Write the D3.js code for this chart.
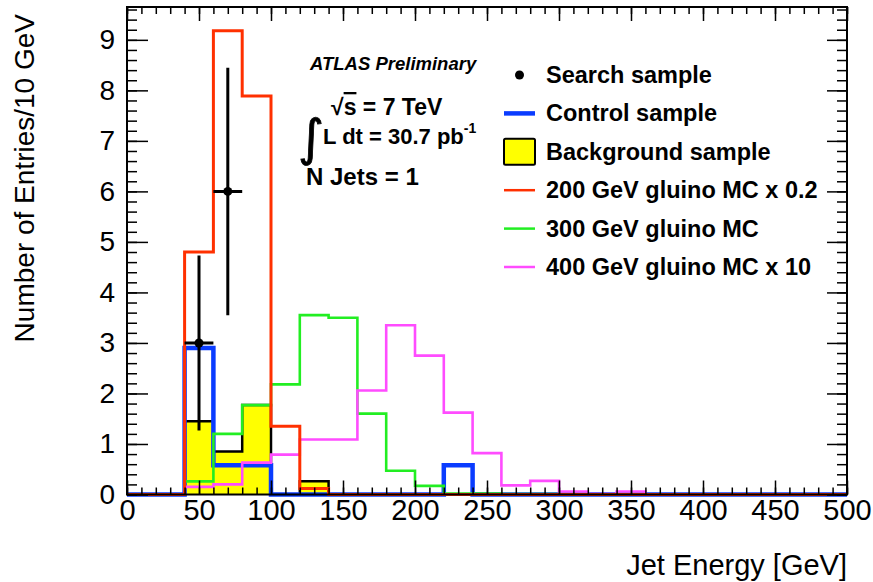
<!DOCTYPE html>
<html>
<head>
<meta charset="utf-8">
<script src="https://cdn.jsdelivr.net/npm/d3@7"></script>
<style>
  html, body { margin: 0; padding: 0; background: #fff; }
  svg { display: block; }
  text { font-family: "Liberation Sans", Arial, Helvetica, sans-serif; fill: #000; }
</style>
</head>
<body>
<svg id="chart" width="873" height="582"></svg>
<script>
// Bin edges of the jet-energy histograms (20 GeV bins, 0–500 GeV)
const binEdges = d3.range(0, 520, 20);

// Control sample (blue)
const controlSample = [0, 0, 2.9, 0.58, 0.58, 0, 0, 0, 0, 0, 0, 0.58, 0, 0, 0, 0, 0, 0, 0, 0, 0, 0, 0, 0, 0];
// Background sample (yellow filled)
const backgroundSample = [0, 0, 1.45, 0.85, 1.77, 0, 0.26, 0, 0, 0, 0, 0, 0, 0, 0, 0, 0, 0, 0, 0, 0, 0, 0, 0, 0];
// 200 GeV gluino MC x 0.2
const gluino200 = [0, 0, 4.8, 9.18, 7.89, 1.35, 0.12, 0, 0, 0, 0, 0, 0, 0, 0, 0, 0, 0, 0, 0, 0, 0, 0, 0, 0];
// 300 GeV gluino MC
const gluino300 = [0, 0, 0.26, 1.2, 1.77, 2.18, 3.55, 3.5, 1.6, 0.47, 0.17, 0.02, 0.02, 0.01, 0.01, 0.01, 0, 0.01, 0, 0, 0, 0, 0, 0, 0];
// 400 GeV gluino MC x 10
const gluino400 = [0, 0, 0.15, 0.2, 0.63, 0.79, 1.09, 1.09, 2.06, 3.35, 2.75, 1.62, 0.82, 0.18, 0.27, 0.06, 0.01, 0.06, 0, 0, 0, 0, 0, 0, 0];

// Search sample data points (bin centre, entries)
const searchEnergy = [50, 70];
const searchCounts = [3, 6];

// Axis ticks
const xMajorTicks = d3.range(0, 550, 50);
const xMinorTicks = d3.range(0, 510, 10);
const yMajorTicks = d3.range(0, 10, 1);
const yMinorTicks = d3.range(0, 9.61, 0.2);

const legendLabels = [
  "Search sample",
  "Control sample",
  "Background sample",
  "200 GeV gluino MC x 0.2",
  "300 GeV gluino MC",
  "400 GeV gluino MC x 10"
];

const colors = {
  control: "#0a3cff",
  g200: "#ff3000",
  g300: "#22ee22",
  g400: "#ff4cff",
  bkg: "#ffff00"
};

const svg = d3.select("#chart");
const frame = { left: 127, right: 847, top: 7, bottom: 494.5 };

const x = d3.scaleLinear().domain([0, 500]).range([frame.left, frame.right]);
const y = d3.scaleLinear().domain([0, 9.65]).range([frame.bottom, frame.top]);

svg.append("defs").append("clipPath").attr("id", "plotClip")
  .append("rect")
  .attr("x", frame.left - 3).attr("y", frame.top)
  .attr("width", frame.right - frame.left + 6)
  .attr("height", frame.bottom - frame.top + 3);

const plot = svg.append("g").attr("clip-path", "url(#plotClip)");

// step points for a histogram: one point per bin left edge plus the last edge
function stepPoints(values) {
  const pts = values.map((v, i) => [binEdges[i], v]);
  pts.push([binEdges[binEdges.length - 1], values[values.length - 1]]);
  return pts;
}

const stepLine = d3.line()
  .x(d => x(d[0]))
  .y(d => y(d[1]))
  .curve(d3.curveStepAfter);

const stepArea = d3.area()
  .x(d => x(d[0]))
  .y0(y(0))
  .y1(d => y(d[1]))
  .curve(d3.curveStepAfter);

// Background sample: yellow fill with black outline
plot.append("path")
  .attr("d", stepArea(stepPoints(backgroundSample)))
  .attr("fill", colors.bkg);
plot.append("path")
  .attr("d", stepLine(stepPoints(backgroundSample)))
  .attr("fill", "none").attr("stroke", "#000").attr("stroke-width", 2.5);

// Control sample
plot.append("path")
  .attr("d", stepLine(stepPoints(controlSample)))
  .attr("fill", "none").attr("stroke", colors.control).attr("stroke-width", 4.5);

// Gluino signal samples
[[gluino300, colors.g300, 2.6], [gluino400, colors.g400, 2.6], [gluino200, colors.g200, 3]]
  .forEach(([vals, col, w]) => {
    plot.append("path")
      .attr("d", stepLine(stepPoints(vals)))
      .attr("fill", "none").attr("stroke", col).attr("stroke-width", w);
  });

// Search sample: points with Poisson errors and bin-width horizontal bars
const dataG = plot.append("g");
searchEnergy.forEach((e, i) => {
  const n = searchCounts[i];
  const err = Math.sqrt(n);
  dataG.append("line")
    .attr("x1", x(e)).attr("x2", x(e))
    .attr("y1", y(n - err)).attr("y2", y(n + err))
    .attr("stroke", "#000").attr("stroke-width", 3);
  dataG.append("line")
    .attr("x1", x(e - 10)).attr("x2", x(e + 10))
    .attr("y1", y(n)).attr("y2", y(n))
    .attr("stroke", "#000").attr("stroke-width", 3);
  dataG.append("circle")
    .attr("cx", x(e)).attr("cy", y(n)).attr("r", 4.5)
    .attr("fill", "#000");
});

// Axes: ticks point into the frame
function styleAxis(g) {
  g.select(".domain").remove();
  g.selectAll(".tick line").attr("stroke", "#000").attr("stroke-width", 1.5);
}

const xFont = 29;
svg.append("g").attr("transform", `translate(0,${frame.bottom})`)
  .call(d3.axisBottom(x).tickValues(xMinorTicks).tickSize(-7).tickFormat(""))
  .call(styleAxis);
svg.append("g").attr("transform", `translate(0,${frame.bottom})`)
  .call(d3.axisBottom(x).tickValues(xMajorTicks).tickSize(-14).tickPadding(5).tickFormat(d3.format("d")))
  .call(styleAxis)
  .call(g => g.selectAll("text").style("font-size", xFont + "px"));

svg.append("g").attr("transform", `translate(0,${frame.top})`)
  .call(d3.axisTop(x).tickValues(xMinorTicks).tickSize(-7).tickFormat(""))
  .call(styleAxis);
svg.append("g").attr("transform", `translate(0,${frame.top})`)
  .call(d3.axisTop(x).tickValues(xMajorTicks).tickSize(-14).tickFormat(""))
  .call(styleAxis);

svg.append("g").attr("transform", `translate(${frame.left},0)`)
  .call(d3.axisLeft(y).tickValues(yMinorTicks).tickSize(-10).tickFormat(""))
  .call(styleAxis);
svg.append("g").attr("transform", `translate(${frame.left},0)`)
  .call(d3.axisLeft(y).tickValues(yMajorTicks).tickSize(-21).tickPadding(12).tickFormat(d3.format("d")))
  .call(styleAxis)
  .call(g => g.selectAll("text").style("font-size", "28px"));

svg.append("g").attr("transform", `translate(${frame.right},0)`)
  .call(d3.axisRight(y).tickValues(yMinorTicks).tickSize(-10).tickFormat(""))
  .call(styleAxis);
svg.append("g").attr("transform", `translate(${frame.right},0)`)
  .call(d3.axisRight(y).tickValues(yMajorTicks).tickSize(-20).tickFormat(""))
  .call(styleAxis);

// Frame
svg.append("rect")
  .attr("x", frame.left).attr("y", frame.top)
  .attr("width", frame.right - frame.left).attr("height", frame.bottom - frame.top)
  .attr("fill", "none").attr("stroke", "#000").attr("stroke-width", 2);

// Axis titles
svg.append("text")
  .attr("x", frame.right).attr("y", 575)
  .attr("text-anchor", "end")
  .style("font-size", "29px")
  .text("Jet Energy [GeV]");

svg.append("text")
  .attr("transform", "translate(34,14) rotate(-90)")
  .attr("text-anchor", "end")
  .style("font-size", "28px")
  .text("Number of Entries/10 GeV");

// Labels inside the frame
svg.append("text")
  .attr("x", 310).attr("y", 70)
  .style("font-size", "18.5px").style("font-weight", "bold").style("font-style", "italic")
  .text("ATLAS Preliminary");

const sqrtText = svg.append("text")
  .attr("x", 331).attr("y", 115)
  .style("font-size", "23px").style("font-weight", "bold");
sqrtText.append("tspan").text("√");
sqrtText.append("tspan").style("text-decoration", "overline").text("s");
sqrtText.append("tspan").text(" = 7 TeV");

svg.append("text")
  .attr("x", 298).attr("y", 155)
  .style("font-family", "'DejaVu Sans', sans-serif")
  .style("font-size", "50px")
  .style("stroke", "#000").style("stroke-width", 0.8)
  .text("∫");

const lumi = svg.append("text")
  .attr("x", 323).attr("y", 144)
  .style("font-size", "22px").style("font-weight", "bold");
lumi.append("tspan").text("L dt = 30.7 pb");
lumi.append("tspan").attr("dy", -11).style("font-size", "14px").text("-1");

svg.append("text")
  .attr("x", 306).attr("y", 185)
  .style("font-size", "24px").style("font-weight", "bold")
  .text("N Jets = 1");

// Legend
const legendX0 = 504, legendX1 = 535, legendTextX = 546;
const legendBase = d3.range(6).map(i => 83 + i * 38.4);
const legend = svg.append("g");

legendLabels.forEach((label, i) => {
  legend.append("text")
    .attr("x", legendTextX).attr("y", legendBase[i])
    .style("font-size", "23.5px").style("font-weight", "bold")
    .text(label);
});
const cy = i => legendBase[i] - 8;
legend.append("circle").attr("cx", 519.5).attr("cy", cy(0)).attr("r", 4.5).attr("fill", "#000");
legend.append("line").attr("x1", legendX0).attr("x2", legendX1).attr("y1", cy(1)).attr("y2", cy(1))
  .attr("stroke", colors.control).attr("stroke-width", 4.5);
legend.append("rect").attr("x", legendX0).attr("y", cy(2) - 13).attr("width", legendX1 - legendX0).attr("height", 26)
  .attr("fill", colors.bkg).attr("stroke", "#000").attr("stroke-width", 2).attr("rx", 1.5);
[[3, colors.g200], [4, colors.g300], [5, colors.g400]].forEach(([i, col]) => {
  legend.append("line").attr("x1", legendX0).attr("x2", legendX1).attr("y1", cy(i)).attr("y2", cy(i))
    .attr("stroke", col).attr("stroke-width", 2.5);
});
</script>
</body>
</html>
